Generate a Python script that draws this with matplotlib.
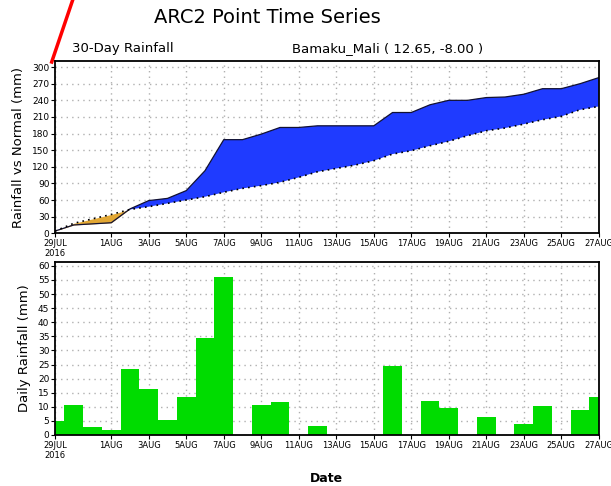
import numpy as np
import matplotlib
matplotlib.use("Agg")
import matplotlib.pyplot as plt
from matplotlib.lines import Line2D

# 29JUL .. 27AUG 2016, one value per day
days = np.arange(30)
daily = [5.0, 10.7, 2.8, 1.6, 23.4, 16.3, 5.4, 13.6, 34.4, 56.1,
         0, 10.8, 11.6, 0, 3.3, 0, 0, 0, 24.5, 0,
         12.2, 9.7, 0, 6.5, 0, 4.0, 10.3, 0, 9.0, 13.3]
actual = [4, 15, 17, 19, 44, 59, 63, 77, 113, 169,
          169, 179, 191, 191, 194, 194, 194, 194, 218, 218,
          232, 240, 240, 245, 246, 251, 261, 261, 270, 281]
normal = [4, 18, 26, 34, 43, 48, 54, 60, 66, 74,
          81, 86, 92, 101, 111, 117, 123, 131, 143, 149,
          158, 166, 176, 185, 190, 197, 205, 211, 223, 229]
tick_days = [0, 3, 5, 7, 9, 11, 13, 15, 17, 19, 21, 23, 25, 27, 29]
tick_labels = ["29JUL\n2016", "1AUG", "3AUG", "5AUG", "7AUG", "9AUG", "11AUG",
               "13AUG", "15AUG", "17AUG", "19AUG", "21AUG", "23AUG", "25AUG", "27AUG"]

fig = plt.figure(figsize=(6.11, 4.86), dpi=100)
ax1 = fig.add_axes([0.090, 0.520, 0.890, 0.3545])
ax2 = fig.add_axes([0.090, 0.105, 0.890, 0.356])

act = np.array(actual, float)
nor = np.array(normal, float)
ax1.fill_between(days, act, nor, where=act >= nor, interpolate=True,
                 color="#1f3bff", lw=0)
ax1.fill_between(days, act, nor, where=act < nor, interpolate=True,
                 color="#e2a733", lw=0)
ax1.plot(days, act, color="#111133", lw=0.9)
ax1.plot(days, nor, color="k", lw=1.2, ls=(0, (1, 2.5)))
ax1.set_ylim(0, 311)
ax1.set_yticks(range(0, 301, 30))
ax1.set_ylabel("Rainfall vs Normal (mm)", fontsize=9.5, labelpad=5)

ax2.bar(days, daily, width=1.0, color="#00dc00", lw=0)
ax2.set_ylim(0, 61.4)
ax2.set_yticks(range(0, 61, 5))
ax2.set_ylabel("Daily Rainfall (mm)", fontsize=9.5, labelpad=5)
ax2.set_xlabel("Date", fontsize=9, fontweight="bold", labelpad=9)

for ax in (ax1, ax2):
    ax.set_xlim(0, 29)
    ax.set_xticks(tick_days)
    ax.set_xticklabels(tick_labels, fontsize=6)
    ax.tick_params(axis="y", labelsize=6.5, length=3, pad=1)
    ax.tick_params(axis="x", length=3, pad=1)
    ax.grid(True, color="#b0b0b0", ls=(0, (1, 3)), lw=1)
    ax.set_axisbelow(True)
    for s in ax.spines.values():
        s.set_linewidth(1.3)

fig.text(0.438, 0.965, "ARC2 Point Time Series", fontsize=14, ha="center", va="center")
fig.text(0.118, 0.901, "30-Day Rainfall", fontsize=9.5, ha="left", va="center")
fig.text(0.478, 0.901, "Bamaku_Mali ( 12.65, -8.00 )", fontsize=9.5, ha="left", va="center")

fig.add_artist(Line2D([72.7 / 611, 51.7 / 611], [1.0, 1 - 62 / 486],
                      color="red", lw=2.5, transform=fig.transFigure))

fig.savefig("out.png", dpi=100)
